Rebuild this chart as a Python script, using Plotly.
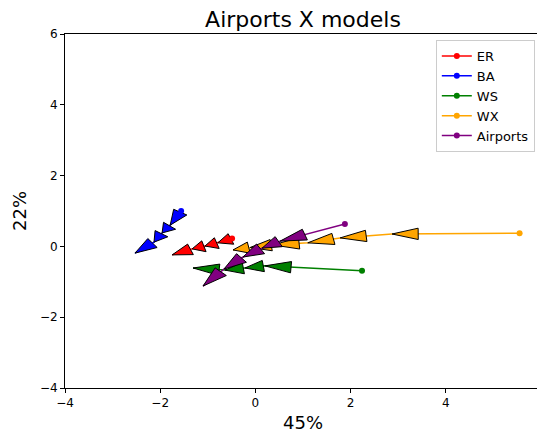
import plotly.graph_objects as go
import math

# ---- data ----
series_names = ["ER", "BA", "WS", "WX", "Airports"]
series_colors = ["#ff0000", "#0000ff", "#008000", "#ffa500", "#800080"]

er_x = [-0.49, -0.79, -1.06, -1.33, -1.75]
er_y = [0.22, 0.10, 0.01, -0.07, -0.24]

ba_x = [-1.56, -1.79, -1.96, -2.13, -2.53]
ba_y = [1.00, 0.60, 0.38, 0.12, -0.19]

ws_x = [2.24, 0.20, -0.22, -0.64, -1.31]
ws_y = [-0.69, -0.55, -0.61, -0.67, -0.61]

wx_x = [5.55, 2.87, 1.78, 1.10, 0.37, -0.11, -0.47]
wx_y = [0.37, 0.35, 0.24, 0.10, 0.04, -0.03, -0.10]

ap_x = [1.88, 0.52, 0.14, -0.26, -0.66, -1.10]
ap_y = [0.63, 0.15, -0.05, -0.30, -0.64, -1.12]

xs = [er_x, ba_x, ws_x, wx_x, ap_x]
ys = [er_y, ba_y, ws_y, wx_y, ap_y]

x_range = [-4, 6]
y_range = [-4, 6]
tick_vals = [-4, -2, 0, 2, 4, 6]

# ---- layout geometry (page has an 8px body margin) ----
W, H = 537, 426
ML, MR, MT, MB = 57, 4, 26, 46

HEAD_LEN = 0.55    # data units along the segment (max)
HEAD_HALF = 0.16   # data units across the segment

def heads(px, py):
    hx, hy = [], []
    for i in range(len(px) - 1):
        dx = px[i + 1] - px[i]
        dy = py[i + 1] - py[i]
        seg = math.hypot(dx, dy)
        if seg == 0:
            continue
        ux, uy = dx / seg, dy / seg
        nx, ny = -uy, ux
        L = min(HEAD_LEN, 0.92 * seg)
        tx, ty = px[i + 1], py[i + 1]
        bx = tx - L * ux
        by = ty - L * uy
        hx += [tx, bx + HEAD_HALF * nx, bx - HEAD_HALF * nx, tx, None]
        hy += [ty, by + HEAD_HALF * ny, by - HEAD_HALF * ny, ty, None]
    return hx, hy

fig = go.Figure()
for name, col, x, y in zip(series_names, series_colors, xs, ys):
    fig.add_trace(go.Scatter(x=x, y=y, mode="lines", line=dict(color=col, width=1.5),
                             showlegend=False, hoverinfo="skip"))
    hx, hy = heads(x, y)
    fig.add_trace(go.Scatter(x=hx, y=hy, mode="lines", fill="toself", fillcolor=col,
                             line=dict(color="black", width=1), showlegend=False,
                             hoverinfo="skip"))
    fig.add_trace(go.Scatter(x=[x[0]], y=[y[0]], mode="lines+markers", name=name,
                             line=dict(color=col, width=1.5),
                             marker=dict(color=col, size=6)))

axis_common = dict(showgrid=False, zeroline=False, showline=True, linecolor="black",
                   linewidth=1, mirror=True, ticks="outside", ticklen=4,
                   tickcolor="black", tickvals=tick_vals, automargin=False,
                   tickfont=dict(family="DejaVu Sans", size=12, color="black"))

fig.update_layout(
    width=W, height=H,
    margin=dict(l=ML, r=MR, t=MT, b=MB, autoexpand=False),
    plot_bgcolor="white", paper_bgcolor="white",
    title=dict(text="Airports X models", x=(ML + (W - ML - MR) / 2) / W, xanchor="center",
               y=1 - 11 / H, yanchor="middle",
               font=dict(family="DejaVu Sans", size=22, color="black")),
    xaxis=dict(range=x_range, title=dict(text="45%", standoff=6,
               font=dict(family="DejaVu Sans", size=18, color="black")), **axis_common),
    yaxis=dict(range=y_range, title=dict(text="22%", standoff=8,
               font=dict(family="DejaVu Sans", size=18, color="black")), **axis_common),
    legend=dict(x=0.987, y=0.983, xanchor="right", yanchor="top",
                bgcolor="white", bordercolor="#cccccc", borderwidth=1,
                font=dict(family="DejaVu Sans", size=13, color="black"),
                tracegroupgap=0, itemwidth=30),
)

fig.write_html("out.html")
